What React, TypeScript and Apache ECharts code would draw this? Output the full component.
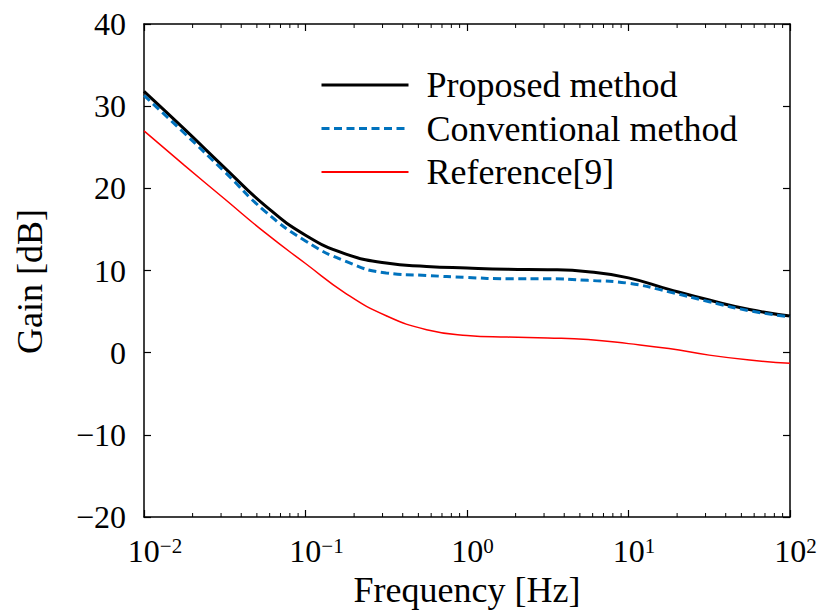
import React, { useEffect, useRef } from "react";
import * as echarts from "echarts";

const frequencies = [0.01, 0.0178, 0.0316, 0.0562, 0.1, 0.178, 0.316, 0.562, 1, 1.78, 3.16, 5.62, 10, 17.8, 31.6, 56.2, 100];
const proposed = [31.8, 27.2, 22.5, 17.9, 14.3, 12.0, 10.9, 10.5, 10.3, 10.15, 10.1, 9.85, 9.1, 7.7, 6.4, 5.25, 4.45];
const conventional = [31.3, 26.7, 22.0, 17.2, 13.6, 11.1, 9.7, 9.4, 9.15, 9.0, 9.0, 8.8, 8.45, 7.4, 6.2, 5.1, 4.35];
const reference9 = [27.0, 22.8, 18.7, 14.6, 10.85, 7.2, 4.5, 2.8, 2.1, 1.9, 1.8, 1.6, 1.1, 0.5, -0.3, -0.9, -1.3];
const seriesNames = ["Proposed method", "Conventional method", "Reference[9]"];
const decades = [0.01, 0.1, 1, 10];
const minorMultipliers = [2, 3, 4, 5, 6, 7, 8, 9];

const FONT = "'Liberation Serif', 'Times New Roman', serif";

export default function App() {
  const ref = useRef<HTMLDivElement>(null);
  useEffect(() => {
    if (!ref.current) return;
    const chart = echarts.init(ref.current, null, { renderer: "svg" });
    const pairs = (ys: number[]) => frequencies.map((f, i) => [f, ys[i]]);
    const minorTicks: number[][] = [];
    decades.forEach((d) => minorMultipliers.forEach((m) => minorTicks.push([d * m, 0])));

    const expOf = (v: number) => Math.round(Math.log10(v));

    const axisCommon = {
      axisLine: { show: true, onZero: false, lineStyle: { color: "#000", width: 1.5 } },
      splitLine: { show: false },
    };
    const tick = { show: true, inside: true, length: 7, lineStyle: { color: "#000", width: 1.2 } };

    const option: any = {
      animation: false,
      backgroundColor: "#fff",
      grid: { left: 144, right: 29, top: 24, bottom: 97, containLabel: false, outerBoundsMode: "none" },
      legend: {
        data: [
          { name: seriesNames[0], lineStyle: { width: 3 } },
          { name: seriesNames[1], lineStyle: { width: 3 } },
          { name: seriesNames[2], lineStyle: { width: 2 } },
        ],
        orient: "vertical",
        left: 320,
        top: 67,
        padding: 0,
        itemWidth: 87,
        itemHeight: 14,
        itemGap: 7.5,
        itemStyle: { opacity: 0 },
        textStyle: { fontFamily: FONT, fontSize: 36, color: "#000", lineHeight: 36, padding: [0, 0, 0, 13] },
      },
      xAxis: [
        {
          type: "log",
          logBase: 10,
          min: 0.01,
          max: 100,
          interval: 1,
          position: "bottom",
          name: "Frequency [Hz]",
          nameLocation: "middle",
          nameGap: 44,
          nameTextStyle: { fontFamily: FONT, fontSize: 36, color: "#000" },
          ...axisCommon,
          axisTick: tick,
          axisLabel: {
            margin: 18,
            formatter: (v: number) => {
              const e = expOf(v);
              return e < 0
                ? `{spA| }{b|10}{s|\u2212${Math.abs(e)}}`
                : `{spB| }{b|10}{s|${e}}`;
            },
            rich: {
              spA: { width: 22, fontSize: 12 },
              spB: { width: 11, fontSize: 12 },
              b: { fontFamily: FONT, fontSize: 32, lineHeight: 32, color: "#000" },
              s: { fontFamily: FONT, fontSize: 21, lineHeight: 12, verticalAlign: "top", color: "#000" },
            },
          },
        },
        {
          type: "log",
          logBase: 10,
          min: 0.01,
          max: 100,
          interval: 1,
          position: "top",
          ...axisCommon,
          axisTick: tick,
          axisLabel: { show: false },
        },
      ],
      yAxis: [
        {
          type: "value",
          min: -20,
          max: 40,
          interval: 10,
          position: "left",
          name: "Gain [dB]",
          nameLocation: "middle",
          nameGap: 96,
          nameRotate: 90,
          nameTextStyle: { fontFamily: FONT, fontSize: 36, color: "#000", padding: [0, 22, 0, 0] },
          ...axisCommon,
          axisTick: tick,
          axisLabel: {
            margin: 18,
            fontFamily: FONT,
            fontSize: 32,
            color: "#000",
            formatter: (v: number) => (v < 0 ? "\u2212" + Math.abs(v) : String(v)),
          },
        },
        {
          type: "value",
          min: -20,
          max: 40,
          interval: 10,
          position: "right",
          ...axisCommon,
          axisTick: tick,
          axisLabel: { show: false },
        },
      ],
      series: [
        {
          name: "minor ticks",
          type: "custom",
          xAxisIndex: 0,
          yAxisIndex: 0,
          silent: true,
          clip: false,
          data: minorTicks,
          renderItem: (params: any, api: any) => {
            const f = api.value(0);
            const pb = api.coord([f, -20]);
            const pt = api.coord([f, 40]);
            const st = { stroke: "#000", lineWidth: 1 };
            return {
              type: "group",
              children: [
                { type: "line", shape: { x1: pb[0], y1: pb[1], x2: pb[0], y2: pb[1] - 4 }, style: st },
                { type: "line", shape: { x1: pt[0], y1: pt[1], x2: pt[0], y2: pt[1] + 4 }, style: st },
              ],
            };
          },
        },
        {
          name: seriesNames[2],
          type: "line",
          data: pairs(reference9),
          symbol: "none",
          showSymbol: false,
          smooth: 0.5,
          lineStyle: { color: "#FF0000", width: 1.5 },
          itemStyle: { color: "#FF0000" },
          z: 3,
        },
        {
          name: seriesNames[1],
          type: "line",
          data: pairs(conventional),
          symbol: "none",
          showSymbol: false,
          smooth: 0.5,
          lineStyle: { color: "#0072BD", width: 3, type: [8, 4.5] },
          itemStyle: { color: "#0072BD" },
          z: 4,
        },
        {
          name: seriesNames[0],
          type: "line",
          data: pairs(proposed),
          symbol: "none",
          showSymbol: false,
          smooth: 0.5,
          lineStyle: { color: "#000", width: 3 },
          itemStyle: { color: "#000" },
          z: 3,
        },
      ],
    };
    chart.setOption(option);
    return () => chart.dispose();
  }, []);
  return <div ref={ref} style={{ position: "absolute", left: 0, top: 0, width: 819, height: 614 }} />;
}
